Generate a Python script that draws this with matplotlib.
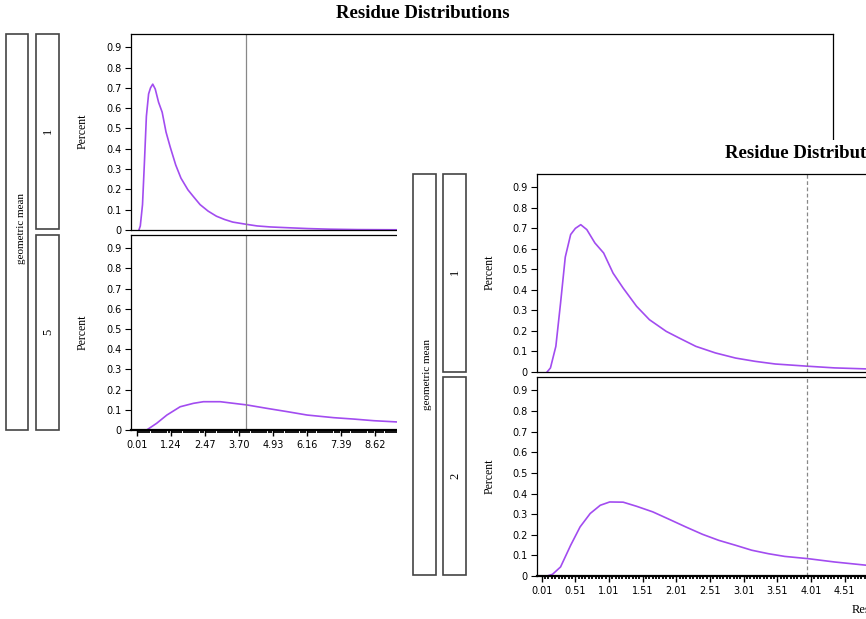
import numpy as np
import matplotlib
matplotlib.use("Agg")
import matplotlib.pyplot as plt
from matplotlib.patches import Rectangle

# density curves (x = residue, y = percent)
g1_x = [0.09, 0.14, 0.22, 0.29, 0.36, 0.44, 0.51, 0.59, 0.68, 0.80, 0.93, 1.07, 1.22,
        1.42, 1.61, 1.86, 2.05, 2.30, 2.59, 2.89, 3.18, 3.48, 3.97, 4.36, 4.84, 5.5,
        6.2, 7.0, 8.0, 9.5]
g1_y = [0.0, 0.02, 0.125, 0.336, 0.56, 0.67, 0.70, 0.718, 0.694, 0.629, 0.58, 0.482,
        0.409, 0.32, 0.255, 0.198, 0.166, 0.125, 0.093, 0.068, 0.052, 0.039, 0.028,
        0.02, 0.015, 0.011, 0.007, 0.004, 0.002, 0.001]

g5_x = [0.37, 0.73, 1.10, 1.58, 2.06, 2.42, 3.03, 3.51, 3.99, 4.72, 5.44, 6.17, 7.13,
        7.86, 8.58, 9.40, 10.5, 12.0]
g5_y = [0.0, 0.033, 0.074, 0.115, 0.132, 0.14, 0.14, 0.132, 0.124, 0.107, 0.091,
        0.074, 0.061, 0.054, 0.046, 0.040, 0.033, 0.026]

g2_x = [0.09, 0.17, 0.29, 0.44, 0.58, 0.73, 0.88, 1.02, 1.22, 1.42, 1.66, 1.91, 2.15,
        2.40, 2.64, 2.89, 3.13, 3.38, 3.62, 3.97, 4.36, 4.84, 5.5, 6.5]
g2_y = [0.0, 0.008, 0.044, 0.149, 0.238, 0.303, 0.343, 0.359, 0.358, 0.338, 0.311,
        0.274, 0.238, 0.202, 0.173, 0.149, 0.125, 0.108, 0.095, 0.084, 0.068, 0.052,
        0.040, 0.030]

ref_x = 3.95
yticks = [0, 0.1, 0.2, 0.3, 0.4, 0.5, 0.6, 0.7, 0.8, 0.9]
ylabels = ["0"] + [f"{v:.1f}" for v in yticks[1:]]
xticks_a = [0.01, 1.24, 2.47, 3.70, 4.93, 6.16, 7.39, 8.62]
xticks_b = [0.01, 0.51, 1.01, 1.51, 2.01, 2.51, 3.01, 3.51, 4.01, 4.51, 5.01]

W, H = 866, 619
CURVE = "#a24cf0"
SERIF = "Liberation Serif"


def rect(x0, y0, x1, y1):
    return [x0 / W, 1 - y1 / H, (x1 - x0) / W, (y1 - y0) / H]


def box(fig, x0, y0, x1, y1):
    fig.patches.append(Rectangle((x0 / W, 1 - y1 / H), (x1 - x0) / W, (y1 - y0) / H,
                                 transform=fig.transFigure, fill=False,
                                 edgecolor="#444444", lw=1.2))


def ftext(fig, x, y, s, **kw):
    fig.text(x / W, 1 - y / H, s, **kw)


def panel(ax, xs, ys, xlim, xticks, minor, ls_ref, bottom):
    ax.plot(xs, ys, color=CURVE, lw=1.2)
    ax.axvline(ref_x, color="#888888", lw=0.9, ls=ls_ref)
    ax.set_xlim(*xlim)
    ax.set_ylim(0, 0.965)
    ax.set_yticks(yticks)
    ax.set_yticklabels(ylabels)
    ax.tick_params(axis="y", direction="out", length=4.5, width=0.8, pad=2,
                   labelsize=7)
    for s in ax.spines.values():
        s.set_linewidth(0.9)
    if bottom:
        ax.set_xticks(xticks)
        ax.set_xticklabels([f"{v:.2f}" for v in xticks])
        ax.set_xticks(np.arange(xticks[0], xlim[1], minor), minor=True)
        ax.tick_params(axis="x", which="major", direction="out", length=4,
                       width=1, pad=3, labelsize=7)
        ax.tick_params(axis="x", which="minor", direction="out", length=2.2,
                       width=1.3)
        ax.spines["bottom"].set_linewidth(1.6)
    else:
        ax.set_xticks([])


fig = plt.figure(figsize=(W / 100, H / 100), dpi=100)

# ---------------------------------------------------------------------------
# back chart
xl_a = (-0.196, 25.17)
a_top = fig.add_axes(rect(131, 34, 833, 230))
panel(a_top, g1_x, g1_y, xl_a, xticks_a, 1.23 / 16, "-", False)
a_bot = fig.add_axes(rect(131, 235, 833, 430))
panel(a_bot, g5_x, g5_y, xl_a, xticks_a, 1.23 / 16, "-", True)

ftext(fig, 423, 14, "Residue Distributions", ha="center", va="center",
      family=SERIF, weight="bold", fontsize=13.5)
ftext(fig, 83, 131, "Percent", ha="center", va="center", rotation=90,
      family=SERIF, fontsize=8.5)
ftext(fig, 83, 332, "Percent", ha="center", va="center", rotation=90,
      family=SERIF, fontsize=8.5)
box(fig, 6, 34, 28, 430)
box(fig, 36, 34, 59, 229)
box(fig, 36, 235, 59, 430)
ftext(fig, 22, 229, "geometric mean", ha="center", va="center", rotation=90,
      family=SERIF, fontsize=8)
ftext(fig, 48, 131, "1", ha="center", va="center", rotation=90, family=SERIF,
      fontsize=9)
ftext(fig, 48, 332, "5", ha="center", va="center", rotation=90, family=SERIF,
      fontsize=9)

# ---------------------------------------------------------------------------
# front chart pasted over the lower right
cover = fig.add_axes(rect(397, 140, 866, 619))
cover.set_facecolor("white")
cover.set_xticks([])
cover.set_yticks([])
for s in cover.spines.values():
    s.set_visible(False)

xl_b = (-0.06, 10.37)
b_top = fig.add_axes(rect(537, 174, 1239, 372))
panel(b_top, g1_x, g1_y, xl_b, xticks_b, 0.05, (0, (3, 2)), False)
b_bot = fig.add_axes(rect(537, 377, 1239, 576))
panel(b_bot, g2_x, g2_y, xl_b, xticks_b, 0.05, (0, (3, 2)), True)

ftext(fig, 725, 153, "Residue Distributions", ha="left", va="center",
      family=SERIF, weight="bold", fontsize=13.5)
ftext(fig, 490, 272, "Percent", ha="center", va="center", rotation=90,
      family=SERIF, fontsize=8.5)
ftext(fig, 490, 476, "Percent", ha="center", va="center", rotation=90,
      family=SERIF, fontsize=8.5)
ftext(fig, 852, 610, "Residue", ha="left", va="center", family=SERIF,
      fontsize=9)
box(fig, 413, 174, 436, 575)
box(fig, 443, 174, 466, 372)
box(fig, 443, 377, 466, 575)
ftext(fig, 428, 375, "geometric mean", ha="center", va="center", rotation=90,
      family=SERIF, fontsize=8)
ftext(fig, 455, 272, "1", ha="center", va="center", rotation=90, family=SERIF,
      fontsize=9)
ftext(fig, 455, 476, "2", ha="center", va="center", rotation=90, family=SERIF,
      fontsize=9)

fig.savefig("out.png", dpi=100)
